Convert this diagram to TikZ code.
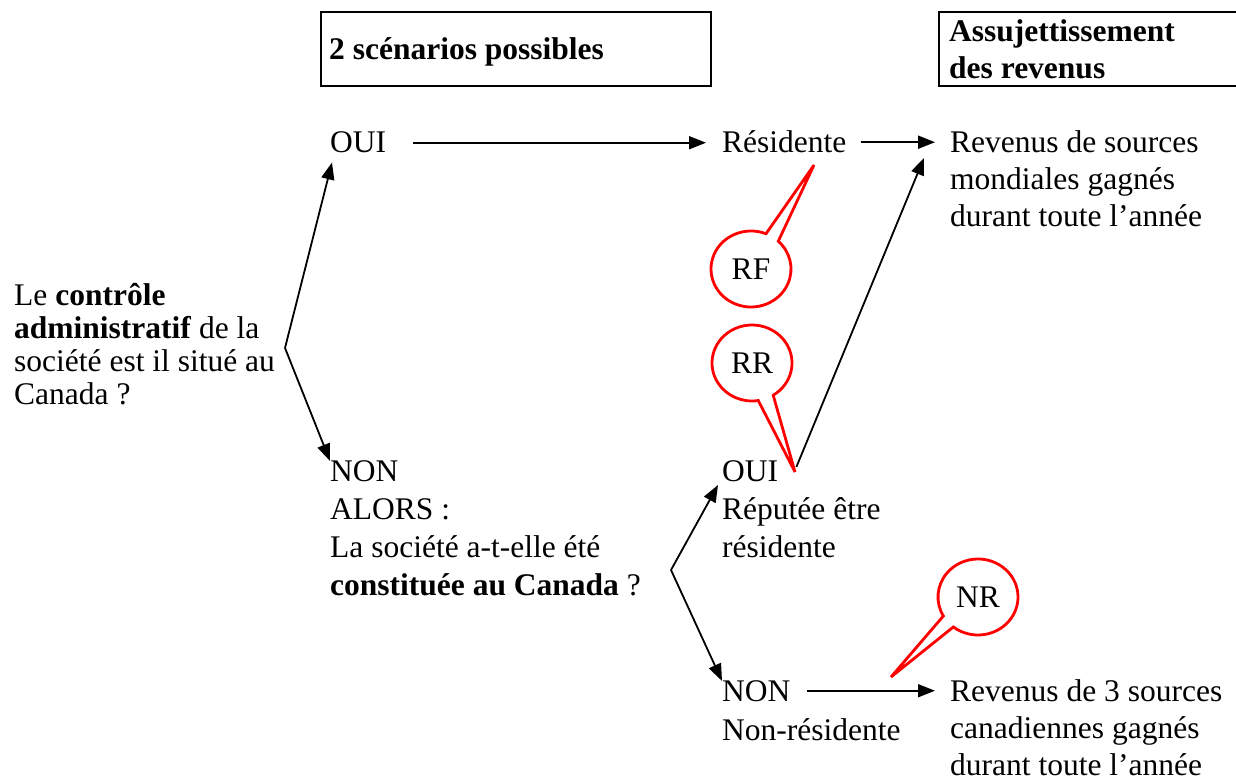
\documentclass[tikz,border=0pt]{standalone}
\usepackage{fontspec}
\setmainfont{Liberation Serif}
\usetikzlibrary{positioning,arrows.meta,calc}
\definecolor{bulle}{HTML}{FF0000}

\tikzset{
  txt/.style={anchor=base west, inner sep=0pt, align=left,
    font=\fontsize{31.5}{38}\selectfont},
  head/.style={draw, line width=2.5pt},
  arr/.style={line width=1.8pt, -{Triangle[length=17pt,width=13pt]}},
  bulle/.style={draw=bulle, line width=2.8pt},
  lbl/.style={inner sep=0pt, font=\fontsize{31.5}{38}\selectfont},
}

\begin{document}
\begin{tikzpicture}[x=1pt, y=1pt]
\useasboundingbox (0,0) rectangle (1236,-783);

% en-tetes (base = derniere ligne)
\draw[head] (321,-12) rectangle (711,-86);
\node[txt, font=\bfseries\fontsize{31.5}{37}\selectfont] (scen) at (329,-60) {2 scénarios possibles};
\draw[head] (1260,-12) -- (939,-12) -- (939,-86) -- (1260,-86);
\node[txt, font=\bfseries\fontsize{31.5}{37}\selectfont] (assuj) at (949,-79) {Assujettissement\\des revenus};

% question
\node[txt, font=\fontsize{31.5}{33}\selectfont] (ctrl) at (14,-404)
  {Le \textbf{contrôle}\\\textbf{administratif} de la\\société est il situé au\\Canada ?};
\coordinate (f1) at (285,-348);

% premier scenario
\node[txt] (oui) at (330,-153) {OUI};
\node[txt] (res) at (722,-153) {Résidente};
\node[txt, font=\fontsize{31.5}{37}\selectfont] (rev1) at (950,-227)
  {Revenus de sources\\mondiales gagnés\\durant toute l’année};

% second scenario
\node[txt] (non) at (330,-595)
  {NON\\ALORS :\\La société a-t-elle été\\\textbf{constituée au Canada} ?};
\coordinate (f2) at (671,-570);
\node[txt] (oui2) at (722,-481) {OUI};
\node[txt] (rep) at (722,-557) {Réputée être\\résidente};
\node[txt] (non2) at (722,-701) {NON};
\node[txt] (nres) at (722,-740) {Non-résidente};
\node[txt, font=\fontsize{31.5}{37}\selectfont] (rev2) at (950,-775)
  {Revenus de 3 sources\\canadiennes gagnés\\durant toute l’année};

% fleches
\draw[arr] (f1) -- ([shift={(2pt,-9pt)}]oui.south west);
\draw[arr] (f1) -- ([yshift=-1pt]non.north west);
\draw[arr, shorten <=27pt, shorten >=16pt] (oui.east) -- (oui.east -| res.west);
\draw[arr, shorten <=14pt, shorten >=15pt] (res.east) -- (res.east -| rev1.west);
\draw[arr] (f2) -- ([shift={(-4pt,-4pt)}]oui2.base west);
\draw[arr] (f2) -- ([yshift=-1pt]non2.north west);
\draw[arr] ([shift={(18pt,-7pt)}]oui2.north east) -- ([shift={(-26pt,-27pt)}]rev1.north west);
\draw[arr, shorten <=16pt, shorten >=15pt] (non2.east) -- (non2.east -| rev2.west);

% bulles
\node[lbl] (rf) at (751,-269) {RF};
\coordinate (rftip) at (814,-165);
\draw[bulle] ([shift={(68:40pt and 38pt)}]rf.center)
  arc[start angle=68, end angle=407, x radius=40pt, y radius=38pt] -- (rftip) -- cycle;

\node[lbl] (rr) at (752,-363) {RR};
\coordinate (rrtip) at (795,-472);
\draw[bulle] ([shift={(302:40pt and 38pt)}]rr.center)
  arc[start angle=302, end angle=639, x radius=40pt, y radius=38pt] -- (rrtip) -- cycle;

\node[lbl] (nr) at (978,-597) {NR};
\coordinate (nrtip) at (891,-677);
\draw[bulle] ([shift={(232:40pt and 38pt)}]nr.center)
  arc[start angle=232, end angle=570, x radius=40pt, y radius=38pt] -- (nrtip) -- cycle;
\end{tikzpicture}
\end{document}
